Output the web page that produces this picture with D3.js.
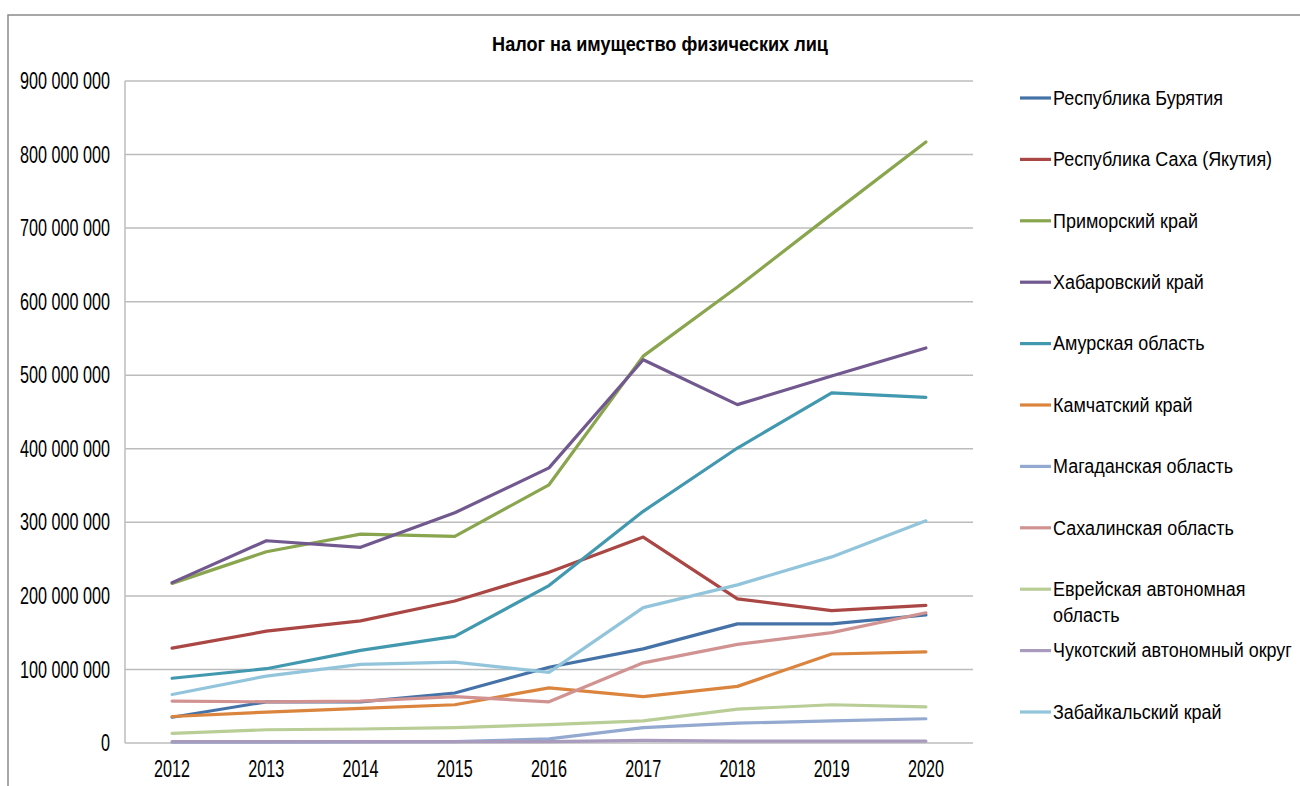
<!DOCTYPE html>
<html>
<head>
<meta charset="utf-8">
<script src="https://cdn.jsdelivr.net/npm/d3@7"></script>
<style>
  body { margin: 0; background: #fff; }
  svg text { font-family: "Liberation Sans", Arial, sans-serif; fill: #000; }
</style>
</head>
<body>
<div id="chart"></div>
<script>
// years on the x axis
var years = ["2012", "2013", "2014", "2015", "2016", "2017", "2018", "2019", "2020"];

// region names, in legend order
var regions = ["Республика Бурятия", "Республика Саха (Якутия)", "Приморский край",
               "Хабаровский край", "Амурская область", "Камчатский край",
               "Магаданская область", "Сахалинская область", "Еврейская автономная область",
               "Чукотский автономный округ", "Забайкальский край"];

// values (roubles)
var buryatia   = [35e6, 56e6, 56e6, 68e6, 103e6, 128e6, 162e6, 162e6, 174e6];
var sakha      = [129e6, 152e6, 166e6, 193e6, 232e6, 280e6, 196e6, 180e6, 187e6];
var primorsky  = [217e6, 260e6, 284e6, 281e6, 351e6, 526e6, 620e6, 719e6, 817e6];
var khabarovsk = [218e6, 275e6, 266e6, 313e6, 374e6, 521e6, 460e6, 499e6, 537e6];
var amur       = [88e6, 101e6, 126e6, 145e6, 214e6, 315e6, 401e6, 476e6, 470e6];
var kamchatka  = [36e6, 42e6, 47e6, 52e6, 75e6, 63e6, 77e6, 121e6, 124e6];
var magadan    = [1e6, 1e6, 1.5e6, 2e6, 5.5e6, 21e6, 27e6, 30e6, 33e6];
var sakhalin   = [57e6, 56e6, 57e6, 63e6, 56e6, 109e6, 134e6, 150e6, 177e6];
var jewish     = [13e6, 18e6, 19e6, 21e6, 25e6, 30e6, 46e6, 52e6, 49e6];
var chukotka   = [2e6, 2e6, 2e6, 2e6, 2e6, 3.5e6, 2.5e6, 2.5e6, 2.5e6];
var zabaykalsk = [66e6, 91e6, 107e6, 110e6, 96e6, 184e6, 215e6, 253e6, 302e6];

var yTicks = [0, 1e8, 2e8, 3e8, 4e8, 5e8, 6e8, 7e8, 8e8, 9e8];

var seriesValues = [buryatia, sakha, primorsky, khabarovsk, amur, kamchatka,
                    magadan, sakhalin, jewish, chukotka, zabaykalsk];
var colors = ["#4572A7", "#AA4643", "#89A54E", "#71588F", "#4198AF", "#DB843D",
              "#93A9CF", "#D19392", "#B9CD96", "#A99BBD", "#92C5DB"];

var series = regions.map(function(name, i) {
  return { name: name, color: colors[i], values: seriesValues[i] };
});

var width = 1300, height = 786;
var plotLeft = 125, plotRight = 973, plotTop = 81, plotBottom = 743;

var svg = d3.select("#chart").append("svg")
  .attr("width", width)
  .attr("height", height);

// outer chart frame
svg.append("rect")
  .attr("x", 8).attr("y", 15)
  .attr("width", width + 20).attr("height", height + 20)
  .attr("fill", "none")
  .attr("stroke", "#8a8a8a")
  .attr("stroke-width", 1.5);

var x = d3.scaleBand().domain(years).range([plotLeft, plotRight]);
var y = d3.scaleLinear().domain([0, 9e8]).range([plotBottom, plotTop]);

var ru = d3.formatLocale({ decimal: ",", thousands: " ", grouping: [3], currency: ["", ""] });
var fmt = ru.format(",.0f");

// squeeze text horizontally so that one sample string gets a target width
function squeeze(sel, sample, fontSize, weight, targetWidth) {
  var t = svg.append("text").attr("font-size", fontSize).attr("font-weight", weight).text(sample);
  var w = t.node().getComputedTextLength();
  t.remove();
  return targetWidth / w;
}

// gridlines
svg.append("g").selectAll("line")
  .data(yTicks.filter(function(d) { return d > 0; }))
  .enter().append("line")
  .attr("x1", plotLeft).attr("x2", plotRight)
  .attr("y1", function(d) { return y(d); })
  .attr("y2", function(d) { return y(d); })
  .attr("stroke", "#bcbcbc")
  .attr("stroke-width", 1.5);

// axes lines
svg.append("line")
  .attr("x1", plotLeft).attr("x2", plotLeft)
  .attr("y1", plotTop).attr("y2", plotBottom)
  .attr("stroke", "#bcbcbc").attr("stroke-width", 1.5);
svg.append("line")
  .attr("x1", plotLeft).attr("x2", plotRight)
  .attr("y1", plotBottom).attr("y2", plotBottom)
  .attr("stroke", "#bcbcbc").attr("stroke-width", 1.5);

// y tick labels
var axisFont = 23;
var axisScale = squeeze(svg, "900 000 000", axisFont, "normal", 90);
svg.append("g").selectAll("text")
  .data(yTicks)
  .enter().append("text")
  .attr("font-size", axisFont)
  .attr("text-anchor", "end")
  .attr("dominant-baseline", "central")
  .attr("transform", function(d) {
    return "translate(110," + y(d) + ") scale(" + axisScale + ",1)";
  })
  .text(function(d) { return fmt(d); });

// x tick labels
svg.append("g").selectAll("text")
  .data(years)
  .enter().append("text")
  .attr("font-size", axisFont)
  .attr("text-anchor", "middle")
  .attr("dominant-baseline", "central")
  .attr("transform", function(d) {
    return "translate(" + (x(d) + x.bandwidth() / 2) + ",769) scale(" + axisScale + ",1)";
  })
  .text(function(d) { return d; });

// title
var titleScale = squeeze(svg, "Налог на имущество физических лиц", 20, "bold", 336);
svg.append("text")
  .attr("font-size", 20)
  .attr("font-weight", "bold")
  .attr("text-anchor", "middle")
  .attr("dominant-baseline", "central")
  .attr("transform", "translate(660,44) scale(" + titleScale + ",1)")
  .text("Налог на имущество физических лиц");

// lines
var line = d3.line()
  .x(function(d, i) { return x(years[i]) + x.bandwidth() / 2; })
  .y(function(d) { return y(d); });

svg.append("g").selectAll("path")
  .data(series)
  .enter().append("path")
  .attr("d", function(s) { return line(s.values); })
  .attr("fill", "none")
  .attr("stroke", function(s) { return s.color; })
  .attr("stroke-width", 3.2)
  .attr("stroke-linejoin", "round")
  .attr("stroke-linecap", "round");

// legend
var legFont = 20;
var legScale = squeeze(svg, "Республика Бурятия", legFont, "normal", 170);
var legend = svg.append("g").selectAll("g")
  .data(series)
  .enter().append("g")
  .attr("transform", function(d, i) { return "translate(1020," + (98 + i * 61.4) + ")"; });

legend.append("line")
  .attr("x1", 0).attr("x2", 31)
  .attr("stroke", function(d) { return d.color; })
  .attr("stroke-width", 3.2);

legend.each(function(d) {
  var g = d3.select(this);
  // wrap long names onto a second line
  var words = d.name.split(" ");
  var lines = [];
  var cur = "";
  words.forEach(function(w) {
    var test = cur ? cur + " " + w : w;
    var t = svg.append("text").attr("font-size", legFont).text(test);
    var len = t.node().getComputedTextLength() * legScale;
    t.remove();
    if (len > 246 && cur) { lines.push(cur); cur = w; } else { cur = test; }
  });
  lines.push(cur);
  lines.forEach(function(l, k) {
    g.append("text")
      .attr("font-size", legFont)
      .attr("dominant-baseline", "central")
      .attr("transform", "translate(33," + (k * 26) + ") scale(" + legScale + ",1)")
      .text(l);
  });
});
</script>
</body>
</html>
